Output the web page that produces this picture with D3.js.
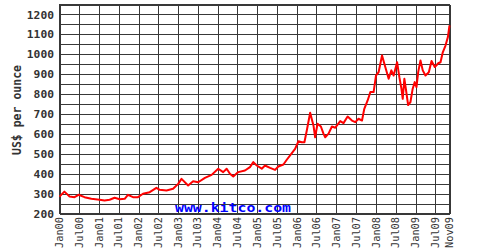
<!DOCTYPE html>
<html>
<head>
<meta charset="utf-8">
<script src="https://cdn.jsdelivr.net/npm/d3@7"></script>
<style>
  body { margin: 0; background: #fff; }
  text { font-family: "DejaVu Sans Mono", monospace; font-weight: bold; }
</style>
</head>
<body>
<svg id="chart"></svg>
<script>
// --- data (gold, US$ per ounce) ---
const dates = [
  "2000-01-01","2000-02-15","2000-04-03","2000-05-19","2000-06-25","2000-08-19","2000-10-21",
  "2001-01-05","2001-02-20","2001-04-08","2001-05-24","2001-07-10","2001-08-25","2001-09-24","2001-11-10","2001-12-26",
  "2002-02-10","2002-04-13","2002-06-14","2002-07-15","2002-09-15","2002-11-15",
  "2003-01-01","2003-02-01","2003-04-03","2003-05-19","2003-07-05","2003-09-05","2003-11-06",
  "2004-01-06","2004-02-21","2004-03-24","2004-04-23","2004-05-24","2004-07-09","2004-09-09","2004-10-25","2004-11-25","2004-12-27",
  "2005-02-11","2005-03-13","2005-04-29","2005-06-14","2005-07-14","2005-08-30","2005-09-30","2005-11-16","2005-12-16",
  "2006-01-16","2006-02-16","2006-03-12","2006-04-03","2006-05-04","2006-06-04","2006-06-19","2006-07-11","2006-08-11",
  "2006-09-04","2006-09-20","2006-10-21","2006-11-21","2006-12-22",
  "2007-02-06","2007-03-08","2007-04-15","2007-05-25","2007-06-25","2007-07-25","2007-08-26","2007-09-16","2007-10-17","2007-11-11","2007-12-11",
  "2008-01-02","2008-01-26","2008-02-27","2008-03-28","2008-04-28","2008-05-23","2008-06-13","2008-07-15","2008-08-05","2008-08-24",
  "2008-09-05","2008-09-20","2008-10-06","2008-10-25","2008-11-15","2008-12-06","2008-12-25",
  "2009-01-10","2009-01-26","2009-02-16","2009-03-09","2009-04-03","2009-05-04","2009-05-29","2009-06-28","2009-07-30",
  "2009-08-20","2009-09-10","2009-10-05","2009-10-27","2009-11-11"
];
const prices = [
  285,310,285,282,294,282,274,
  269,265,269,279,272,274,294,282,282,
  299,307,329,319,316,324,
  349,374,341,362,357,379,394,
  425,408,425,400,386,408,416,433,458,441,
  425,441,429,419,436,446,470,503,525,
  563,558,558,617,706,641,583,651,637,
  601,583,601,637,631,
  664,654,687,667,659,676,667,726,768,810,810,
  893,910,994,936,877,919,893,960,885,827,
  776,877,818,745,759,827,860,
  835,910,969,919,893,910,966,936,955,
  960,1010,1044,1086,1145
];
const xTickLabels = ["Jan00","Jul00","Jan01","Jul01","Jan02","Jul02","Jan03","Jul03","Jan04","Jul04",
  "Jan05","Jul05","Jan06","Jul06","Jan07","Jul07","Jan08","Jul08","Jan09","Jul09","Nov09"];
const xTickDates = ["2000-01-01","2000-07-01","2001-01-01","2001-07-01","2002-01-01","2002-07-01","2003-01-01",
  "2003-07-01","2004-01-01","2004-07-01","2005-01-01","2005-07-01","2006-01-01","2006-07-01","2007-01-01",
  "2007-07-01","2008-01-01","2008-07-01","2009-01-01","2009-07-01","2009-11-11"];
const yTicks = [200,300,400,500,600,700,800,900,1000,1100,1200];

// --- setup ---
const width = 480, height = 250;
const parse = d3.timeParse("%Y-%m-%d");
const data = dates.map((d, i) => ({ date: parse(d), value: prices[i] }));

const svg = d3.select("#chart").attr("width", width).attr("height", height);

const x = d3.scaleTime()
  .domain([parse("2000-01-01"), parse("2009-11-11")])
  .range([59.5, 449.5]);
const y = d3.scaleLinear().domain([200, 1250]).range([213.5, 4.5]);

const gridColor = "#383838";

// horizontal grid every 50
svg.append("g")
  .selectAll("line")
  .data(d3.range(200, 1251, 50))
  .enter().append("line")
  .attr("x1", x.range()[0]).attr("x2", x.range()[1])
  .attr("y1", d => Math.round(y(d)) + 0.5).attr("y2", d => Math.round(y(d)) + 0.5)
  .attr("stroke", gridColor).attr("stroke-width", 1).attr("shape-rendering", "crispEdges");

// vertical grid at each tick date
svg.append("g")
  .selectAll("line")
  .data(xTickDates)
  .enter().append("line")
  .attr("x1", d => Math.round(x(parse(d))) + 0.5).attr("x2", d => Math.round(x(parse(d))) + 0.5)
  .attr("y1", y.range()[1]).attr("y2", y.range()[0])
  .attr("stroke", gridColor).attr("stroke-width", 1).attr("shape-rendering", "crispEdges");

// frame
svg.append("rect")
  .attr("x", x.range()[0]).attr("y", y.range()[1])
  .attr("width", x.range()[1] - x.range()[0]).attr("height", y.range()[0] - y.range()[1])
  .attr("fill", "none").attr("stroke", gridColor).attr("stroke-width", 1)
  .attr("shape-rendering", "crispEdges");

// y tick labels
svg.append("g")
  .selectAll("text")
  .data(yTicks)
  .enter().append("text")
  .attr("x", 54)
  .attr("y", d => y(d))
  .attr("dy", "0.36em")
  .attr("text-anchor", "end")
  .attr("font-size", "11.3px")
  .attr("fill", "#333")
  .text(d => d);

// x tick labels, rotated (regular weight)
svg.append("g")
  .selectAll("text")
  .data(xTickDates)
  .enter().append("text")
  .attr("transform", d => `translate(${x(parse(d))},217) rotate(-90)`)
  .attr("dy", "0.36em")
  .attr("text-anchor", "end")
  .attr("font-size", "10.3px")
  .attr("font-weight", "normal")
  .style("font-weight", "normal")
  .attr("fill", "#333")
  .text((d, i) => xTickLabels[i]);

// y axis title
svg.append("text")
  .attr("transform", "translate(17,110) rotate(-90)")
  .attr("dy", "0.36em")
  .attr("text-anchor", "middle")
  .attr("font-size", "11.5px")
  .attr("fill", "#333")
  .text("US$ per ounce");

// price line
const line = d3.line()
  .x(d => x(d.date))
  .y(d => y(d.value));

svg.append("path")
  .datum(data)
  .attr("d", line)
  .attr("fill", "none")
  .attr("stroke", "#ff0000")
  .attr("stroke-width", 2)
  .attr("stroke-linejoin", "round");

// watermark
svg.append("text")
  .attr("x", 175).attr("y", 212)
  .attr("font-size", "13px")
  .attr("fill", "#0000ff")
  .attr("textLength", 116)
  .attr("lengthAdjust", "spacingAndGlyphs")
  .text("www.kitco.com");
</script>
</body>
</html>
